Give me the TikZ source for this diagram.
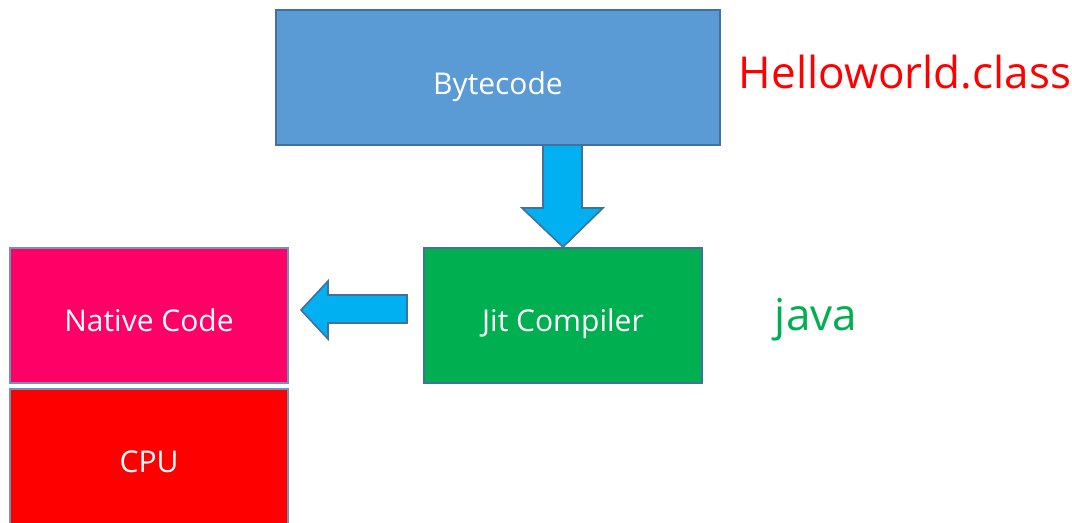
\documentclass[tikz,border=0pt]{standalone}
\usepackage{fontspec}
\setmainfont{Open Sans}
\definecolor{bytefill}{HTML}{5B9BD5}
\definecolor{boxline}{HTML}{41719C}
\definecolor{jitfill}{HTML}{00B050}
\definecolor{nativefill}{HTML}{FF0066}
\definecolor{cpufill}{HTML}{FF0000}
\definecolor{arrowfill}{HTML}{00B0F0}
\definecolor{nativeline}{HTML}{6F93BD}
\begin{document}
\begin{tikzpicture}[x=0.75pt,y=-0.75pt,
  box/.style={draw=boxline,line width=1.5pt,inner sep=0pt},
  boxtext/.style={text=white,font=\fontsize{22.5}{26}\selectfont,anchor=base,inner sep=0pt},
  arrowshape/.style={fill=arrowfill,draw=boxline,line width=1.2pt,line join=miter},
  labeltext/.style={font=\fontsize{33}{38}\selectfont,anchor=base,inner sep=0pt}]
\useasboundingbox (0,0) rectangle (1072,522);
% boxes
\draw[box,fill=bytefill] (276,10) rectangle (720,145);
\node[boxtext] (byte) at (498,94) {Bytecode};
\draw[box,fill=jitfill] (424,248) rectangle (702,383);
\node[boxtext] (jit) at (563,331) {Jit Compiler};
\draw[box,draw=nativeline,fill=nativefill] (10,248) rectangle (288,383);
\node[boxtext] (native) at (149,331) {Native Code};
\draw[box,draw=nativeline,fill=cpufill] (10,389) rectangle (288,530);
\node[boxtext] (cpu) at (149,472) {CPU};
% arrows
\draw[arrowshape] (543,145) -- (582,145) -- (582,208) -- (603,208) -- (563,247)
  -- (522,208) -- (543,208) -- cycle;
\draw[arrowshape] (407,295) -- (407,323) -- (328,323) -- (328,339) -- (301,310)
  -- (328,281) -- (328,295) -- cycle;
% labels
\node[labeltext,text=cpufill] (hello) at (905,88) {Helloworld.class};
\node[labeltext,text=jitfill] (java) at (816,330) {java};
\end{tikzpicture}
\end{document}
